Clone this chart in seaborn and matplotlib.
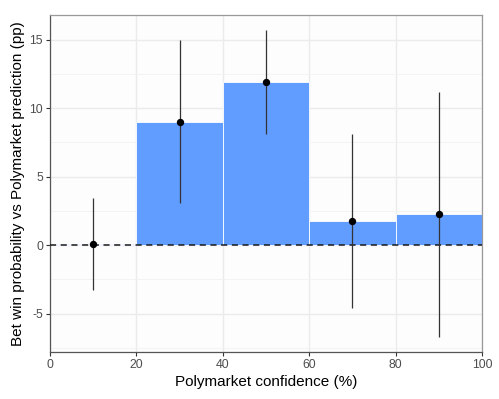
import matplotlib
matplotlib.use("Agg")
import matplotlib.pyplot as plt
import seaborn as sns
import numpy as np
import pandas as pd

bin_edges = [0, 20, 40, 60, 80, 100]
bin_centers = [10, 30, 50, 70, 90]
diff_pp = [0.1, 8.97, 11.88, 1.75, 2.27]
ci_low = [-3.3, 3.05, 8.08, -4.6, -6.7]
ci_high = [3.45, 14.95, 15.68, 8.1, 11.2]

df = pd.DataFrame({"center": bin_centers, "diff": diff_pp, "lo": ci_low, "hi": ci_high})

sns.set_theme(style="whitegrid")
plt.rcParams["font.family"] = ["Liberation Sans", "DejaVu Sans"]
plt.rcParams["axes.unicode_minus"] = False

fig = plt.figure(figsize=(4.99, 3.99), dpi=100)
ax = fig.add_axes([0.1002, 0.1178, 0.8657, 0.8446])
ax.set_facecolor("#FDFDFD")

sns.histplot(data=df, x="center", weights="diff", bins=bin_edges, color="#619CFF",
             alpha=1, edgecolor="white", linewidth=0.6, ax=ax, zorder=2)

ax.axhline(0, color="#1a1a1a", linestyle=(0, (4, 3)), linewidth=1.1, zorder=3)

ax.vlines(df["center"], df["lo"], df["hi"], color="#333333", linewidth=0.9, zorder=4)
sns.scatterplot(data=df, x="center", y="diff", color="black", s=28, edgecolor="black",
                linewidth=0, ax=ax, zorder=5)

ax.set_xlim(0, 100)
ax.set_ylim(-7.8, 16.8)
ax.set_xticks([0, 20, 40, 60, 80, 100])
ax.set_yticks([-5, 0, 5, 10, 15])
ax.set_yticks([-7.5, -2.5, 2.5, 7.5, 12.5], minor=True)
ax.grid(True, which="major", color="#EBEBEB", linewidth=1.0, zorder=0)
ax.grid(True, which="minor", axis="y", color="#F2F2F2", linewidth=0.6, zorder=0)
ax.grid(False, which="minor", axis="x")
ax.set_axisbelow(True)

ax.set_xlabel("Polymarket confidence (%)", fontsize=11, color="black", labelpad=3)
ax.set_ylabel("Bet win probability vs Polymarket prediction (pp)", fontsize=11,
              color="black", labelpad=3)
ax.tick_params(axis="both", which="major", labelsize=8.8, labelcolor="#4D4D4D",
               color="#333333", length=3, width=0.8, direction="out", pad=2,
               left=True, bottom=True)
ax.tick_params(axis="both", which="minor", length=0)

for s in ["left", "bottom"]:
    ax.spines[s].set_color("#555555")
    ax.spines[s].set_linewidth(0.9)
for s in ["top", "right"]:
    ax.spines[s].set_color("#999999")
    ax.spines[s].set_linewidth(0.9)

fig.savefig("out.png", dpi=100)
